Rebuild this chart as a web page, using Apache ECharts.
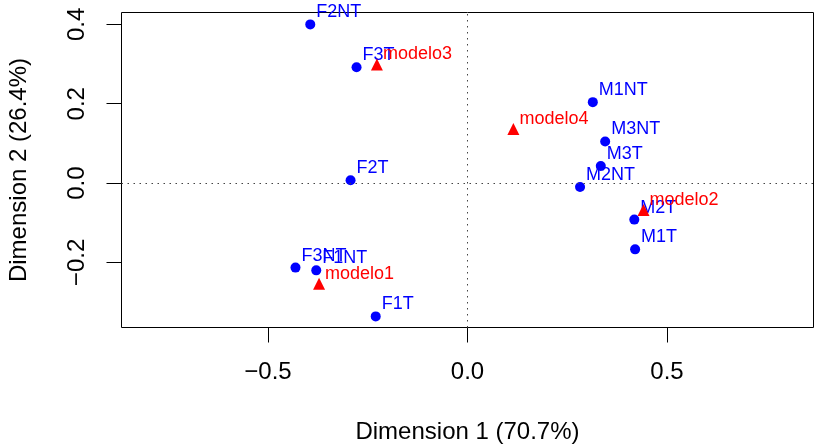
<!DOCTYPE html>
<html><head><meta charset="utf-8">
<script src="https://cdn.jsdelivr.net/npm/echarts@6/dist/echarts.min.js"></script>
<style>html,body{margin:0;padding:0;background:#fff}#c{width:817px;height:445px}</style>
</head><body><div id="c"></div>
<script>
// Row points (blue)
const rowNames = ['F2NT','F3T','F2T','F3NT','F1NT','F1T','M1NT','M3NT','M3T','M2NT','M2T','M1T'];
const rowX = [-0.394,-0.278,-0.293,-0.431,-0.379,-0.230,0.314,0.345,0.334,0.282,0.418,0.420];
const rowY = [0.400,0.292,0.007,-0.213,-0.220,-0.336,0.204,0.105,0.043,-0.010,-0.092,-0.167];
// Column points (red)
const colNames = ['modelo1','modelo2','modelo3','modelo4'];
const colX = [-0.372,0.441,-0.227,0.115];
const colY = [-0.259,-0.073,0.294,0.131];
// Ticks
const xTicks = [-0.5,0.0,0.5];
const yTicks = [-0.2,0.0,0.2,0.4];
const xTitle = 'Dimension 1 (70.7%)';
const yTitle = 'Dimension 2 (26.4%)';

const FONT = 'Liberation Sans, Arial, Helvetica, sans-serif';
const fmt = v => (v < 0 ? '\u2212' : '') + Math.abs(v).toFixed(1);
const rows = rowNames.map((n,i)=>({name:n, value:[rowX[i], rowY[i]]}));
const cols = colNames.map((n,i)=>({name:n, value:[colX[i], colY[i]]}));

const chart = echarts.init(document.getElementById('c'), null, {renderer:'canvas'});
chart.setOption({
  animation:false,
  backgroundColor:'#fff',
  grid:{left:121.5, right:3.5, top:12.5, bottom:117.5, show:true, borderColor:'#000', borderWidth:1,
        backgroundColor:'transparent', containLabel:false, outerBoundsMode:'none'},
  xAxis:{
    type:'value', min:-0.867, max:0.867,
    name:xTitle, nameLocation:'middle', nameGap:93,
    nameTextStyle:{fontFamily:FONT, fontSize:24, color:'#000'},
    axisLine:{show:false, onZero:false},
    axisTick:{show:true, length:15, inside:false, customValues:xTicks, lineStyle:{color:'#000', width:1}},
    axisLabel:{customValues:xTicks, formatter:fmt, margin:33, fontFamily:FONT, fontSize:24, color:'#000'},
    splitLine:{show:false}
  },
  yAxis:{
    type:'value', min:-0.364, max:0.430,
    name:yTitle, nameLocation:'middle', nameGap:90,
    nameTextStyle:{fontFamily:FONT, fontSize:24, color:'#000'},
    axisLine:{show:false, onZero:false},
    axisTick:{show:true, length:15, inside:false, customValues:yTicks, lineStyle:{color:'#000', width:1}},
    axisLabel:{customValues:yTicks, formatter:fmt, rotate:90, margin:32, fontFamily:FONT, fontSize:24, color:'#000'},
    splitLine:{show:false}
  },
  series:[
    {
      type:'scatter', z:2, data:rows, symbol:'circle', symbolSize:10,
      itemStyle:{color:'#0000ff', opacity:1},
      emphasis:{disabled:true},
      label:{show:true, formatter:'{b}', position:'right', distance:1, offset:[0,-12], color:'#0000ff', opacity:1, fontFamily:FONT, fontSize:18},
      markLine:{silent:true, symbol:'none', label:{show:false},
        lineStyle:{type:[1.5,4.5], color:'#444', width:1, opacity:1},
        data:[{xAxis:0},{yAxis:0}]}
    },
    {
      type:'scatter', z:3, data:cols, symbol:'triangle', symbolSize:[12,12], symbolOffset:[0,-2],
      itemStyle:{color:'#ff0000', opacity:1},
      emphasis:{disabled:true},
      label:{show:true, formatter:'{b}', position:'right', distance:0, offset:[0,-10], color:'#ff0000', opacity:1, fontFamily:FONT, fontSize:18}
    }
  ]
});
</script>
</body></html>
